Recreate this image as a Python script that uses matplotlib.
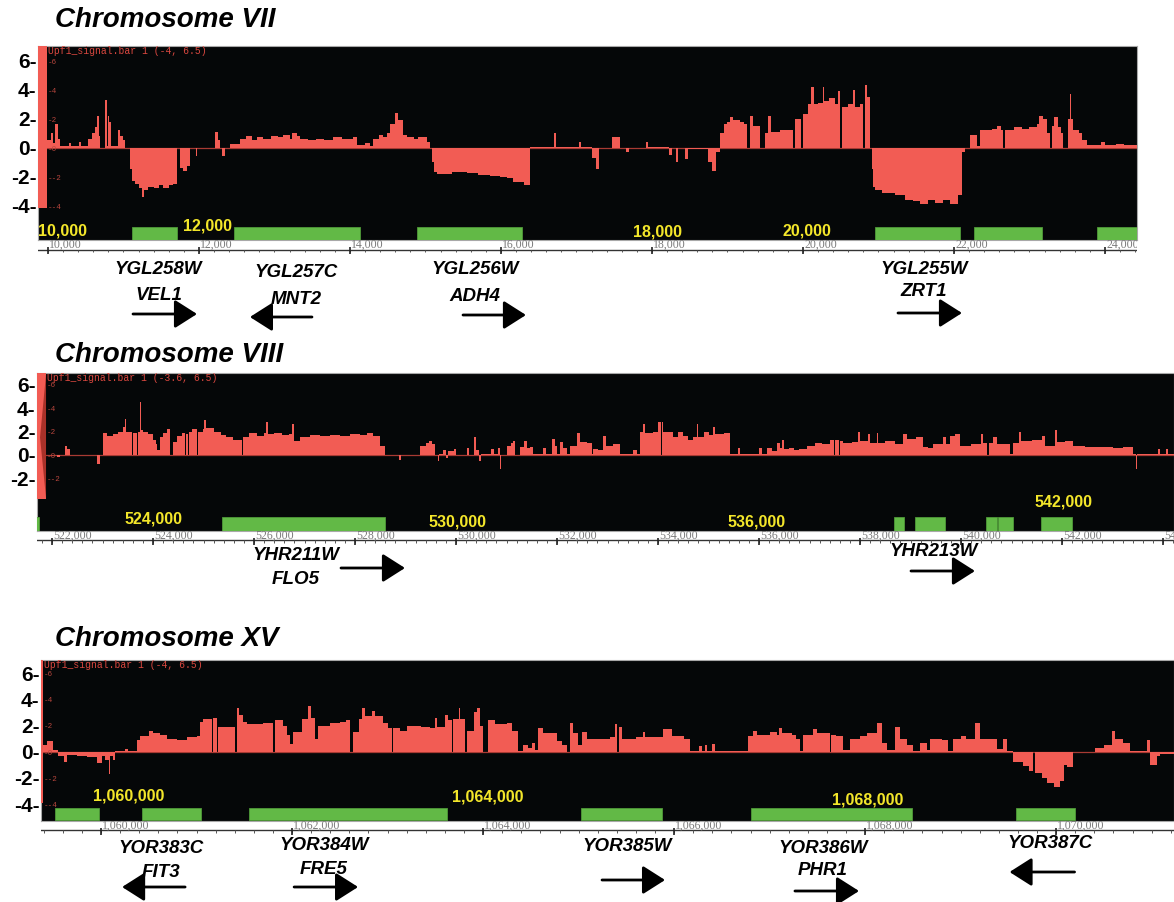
import matplotlib
matplotlib.use('Agg')
import matplotlib.pyplot as plt
import matplotlib.transforms as mtransforms
from matplotlib.patches import Rectangle, Polygon
import numpy as np

# ---------------- DATA ----------------
titles = ['Chromosome VII', 'Chromosome VIII', 'Chromosome XV']
track_labels = ['Upf1_signal.bar 1 (-4, 6.5)', 'Upf1_signal.bar 1 (-3.6, 6.5)', 'Upf1_signal.bar 1 (-4, 6.5)']

# Chromosome VII signal (segment edges in bp, values)
vii_edges = [9990, 10040, 10070, 10092, 10137, 10159, 10280, 10310, 10410, 10440, 10534, 10580, 10620, 10644, 10670,
             10689, 10760, 10780, 10795, 10815, 10835, 10930, 10960, 10990, 11020, 11086, 11110, 11150, 11200, 11250,
             11275, 11330, 11400, 11470, 11530, 11600, 11650, 11705, 11748, 11790, 11840, 11881, 11960, 11980, 12212,
             12250, 12278, 12300, 12344, 12410, 12543, 12620, 12700, 12764, 12850, 12950, 13050, 13117, 13200, 13227,
             13300, 13338, 13450, 13550, 13650, 13779, 13900, 14044, 14088, 14200, 14265, 14309, 14380, 14440, 14485,
             14530, 14600, 14640, 14700, 14750, 14850, 14900, 15015, 15060, 15081, 15110, 15148, 15236, 15350, 15545,
             15700, 15850, 15987, 16080, 16163, 16300, 16384, 16700, 16730, 17030, 17060, 17201, 17260, 17300, 17466,
             17576, 17660, 17690, 17920, 17950, 18230, 18260, 18320, 18350, 18440, 18480, 18746, 18800, 18850, 18900,
             18950, 19000, 19033, 19070, 19165, 19220, 19254, 19300, 19340, 19430, 19496, 19540, 19580, 19700, 19800,
             19870, 19895, 19980, 20000, 20060, 20110, 20140, 20200, 20260, 20280, 20350, 20420, 20470, 20495, 20512,
             20600, 20660, 20690, 20760, 20795, 20815, 20850, 20890, 20909, 20930, 20953, 21050, 21150, 21215, 21225,
             21350, 21461, 21550, 21650, 21750, 21850, 21950, 22050, 22100, 22150, 22212, 22300, 22344, 22500, 22565,
             22620, 22653, 22675, 22800, 22900, 23000, 23100, 23130, 23180, 23230, 23271, 23293, 23330, 23380, 23420,
             23448, 23514, 23530, 23550, 23580, 23650, 23700, 23757, 23950, 24000, 24150, 24250, 24424]
vii_values = [0.5, 1.0, 0.3, 1.6, 0.6, 0.1, 0.3, 0.1, 0.4, 0.1, 0.6, 1.0, 1.4, 2.2, 0.8,
              0.0, 3.3, 0.1, 2.2, 1.8, 0.1, 1.2, 0.8, 0.5, 0.0, -1.5, -2.3, -2.5, -2.8, -3.4,
              -2.9, -2.7, -2.8, -2.6, -2.8, -2.6, -2.5, 0.0, -1.4, -1.6, -1.3, 0.0, -0.6, 0.0, 1.1,
              0.5, 0.0, -0.6, 0.0, 0.25, 0.6, 0.8, 0.5, 0.7, 0.6, 0.8, 0.7, 0.9, 0.6, 1.0,
              0.8, 0.6, 0.5, 0.6, 0.5, 0.7, 0.6, 0.7, 0.2, 0.3, 0.1, 0.6, 0.9, 0.7, 1.0,
              1.6, 2.4, 1.9, 0.9, 0.75, 0.6, 0.7, 0.4, 0.0, -1.0, -1.7, -1.8, -1.8, -1.7, -1.75,
              -1.9, -1.95, -2.0, -2.1, -2.4, -2.6, 0.05, 1.0, 0.05, 0.4, 0.05, -0.7, -1.5, 0.0, 0.7,
              0.0, -0.3, 0.0, 0.4, 0.05, -0.5, 0.0, -1.0, 0.0, -0.8, -0.1, -1.0, -1.6, -0.3, 1.0,
              1.6, 1.8, 2.1, 1.9, 1.8, 1.6, 0.0, 2.2, 1.5, 0.0, 1.0, 2.2, 1.1, 1.2, 1.2,
              0.0, 2.0, 0.0, 2.3, 3.0, 4.2, 3.0, 3.1, 4.2, 3.2, 3.4, 3.0, 3.9, 0.0, 2.8,
              3.0, 4.0, 2.8, 3.0, 0.0, 4.3, 3.5, 0.0, -1.5, -2.7, -2.9, -3.1, -3.15, 0.0, -3.3,
              -3.6, -3.7, -3.9, -3.6, -3.8, -3.6, -3.9, -3.3, -0.3, 0.0, 0.9, 0.1, 1.2, 1.3, 1.5,
              1.2, 0.0, 1.2, 1.4, 1.3, 1.4, 1.6, 2.2, 2.0, 1.0, 0.0, 1.5, 2.1, 1.4, 1.0,
              0.0, 2.0, 3.7, 2.0, 1.2, 1.0, 0.5, 0.15, 0.4, 0.2, 0.25, 0.15]

vii_gene_start = [11113, 12464, 14887, 20954, 22265, 23894]
vii_gene_end = [11709, 14132, 16278, 22080, 23165, 24600]
vii_coord_labels = ['10,000', '12,000', '18,000', '20,000']
vii_coord_pos = [9868, 11784, 17748, 19735]
vii_names = ['YGL258W', 'YGL257C', 'YGL256W', 'YGL255W']
vii_alias = ['VEL1', 'MNT2', 'ADH4', 'ZRT1']
vii_strand = [1, -1, 1, 1]
vii_label_center = [11466, 13285, 15655, 21600]
vii_arrow_span = [(11126, 11974), (12675, 13497), (15497, 16331), (21258, 22106)]

# Chromosome VIII signal
viii_edges = [521882, 522100, 522150, 522257, 522300, 522356, 522900, 522960, 523016, 523082, 523200, 523300, 523412,
              523445, 523470, 523577, 523600, 523676, 523700, 523740, 523770, 523808, 523900, 524006, 524050, 524072,
              524138, 524200, 524280, 524336, 524402, 524480, 524567, 524633, 524650, 524699, 524720, 524765, 524780,
              524864, 524890, 524990, 525010, 525050, 525200, 525350, 525450, 525590, 525755, 525788, 525900, 526050,
              526200, 526240, 526280, 526400, 526550, 526700, 526760, 526800, 526910, 527100, 527300, 527500, 527700,
              527900, 528100, 528230, 528350, 528494, 528593, 528880, 528920, 529286, 529400, 529470, 529520, 529583,
              529640, 529670, 529750, 529800, 529850, 529950, 529990, 530210, 530260, 530360, 530400, 530460, 530500,
              530700, 530760, 530830, 530870, 530900, 531002, 531080, 531120, 531160, 531266, 531350, 531400, 531460,
              531530, 531728, 531780, 531893, 531950, 532000, 532058, 532120, 532200, 532256, 532400, 532450, 532600,
              532685, 532718, 532820, 532916, 532960, 533100, 533246, 533510, 533580, 533642, 533700, 533740, 533900,
              533990, 534050, 534070, 534104, 534302, 534400, 534500, 534599, 534700, 534764, 534800, 534900, 535000,
              535094, 535130, 535300, 535424, 535589, 535630, 536000, 536050, 536150, 536250, 536350, 536414, 536460,
              536500, 536600, 536700, 536800, 536942, 537100, 537250, 537404, 537480, 537500, 537580, 537600, 537668,
              537850, 537965, 537998, 538150, 538196, 538330, 538361, 538500, 538700, 538856, 538922, 539100, 539252,
              539350, 539450, 539650, 539700, 539780, 539880, 539978, 540200, 540390, 540430, 540506, 540560, 540638,
              540704, 540968, 541034, 541140, 541180, 541400, 541600, 541660, 541860, 541900, 542050, 542222, 542450,
              542651, 543000, 543200, 543410, 543460, 543490, 543900, 543930, 544060, 544100, 544216]
viii_values = [0.0, -0.2, 0.0, 0.8, 0.5, 0.0, -0.8, 0.0, 1.9, 1.6, 1.8, 2.0, 2.4,
               3.1, 2.0, 0.0, 1.9, 0.0, 2.0, 4.5, 2.1, 2.0, 1.8, 1.3, 0.9, 0.4,
               1.5, 1.9, 2.2, 0.0, 1.1, 1.6, 1.9, 0.0, 1.8, 0.0, 2.0, 0.0, 2.2,
               0.0, 2.0, 2.2, 3.0, 2.3, 2.0, 1.7, 1.5, 1.3, 0.0, 1.5, 1.9, 1.6,
               1.9, 2.8, 1.8, 1.9, 1.7, 1.8, 2.6, 1.2, 1.5, 1.7, 1.6, 1.7, 1.6,
               1.8, 1.7, 1.9, 1.6, 0.8, 0.0, -0.4, 0.0, 0.8, 1.0, 1.2, 0.9, 0.0,
               -0.5, 0.1, 0.4, -0.3, 0.3, 0.5, 0.0, 0.6, 0.0, 1.5, 0.4, -0.5, 0.1,
               0.5, 0.1, 0.6, -1.2, 0.0, 0.8, 1.0, 1.2, 0.0, 0.7, 1.2, 0.6, 0.7,
               0.1, 0.6, 0.05, 1.4, 0.8, 0.1, 1.1, 0.6, 0.1, 0.8, 1.9, 1.1, 1.0,
               0.1, 0.5, 0.4, 1.6, 0.8, 0.9, 0.1, 0.4, 0.05, 2.0, 2.6, 1.9, 2.0,
               2.8, 0.0, 2.8, 2.0, 1.5, 2.0, 1.6, 1.3, 1.5, 2.6, 1.5, 2.0, 1.7,
               2.4, 1.8, 1.9, 0.05, 0.6, 0.05, 0.6, 0.1, 0.6, 0.3, 1.0, 0.6, 1.3,
               0.5, 0.6, 0.4, 0.5, 0.8, 1.0, 0.9, 1.3, 0.0, 1.3, 0.0, 1.2, 1.0,
               1.1, 2.0, 1.2, 1.8, 1.0, 1.9, 1.0, 1.2, 0.9, 1.8, 1.4, 1.5, 0.7,
               0.6, 0.9, 1.5, 0.9, 1.6, 1.8, 0.8, 0.9, 1.8, 1.0, 0.0, 1.0, 1.5,
               0.9, 0.1, 1.0, 2.0, 1.2, 1.3, 1.6, 0.8, 2.1, 1.1, 1.2, 0.8, 0.7,
               0.65, 0.6, 0.7, 0.05, -1.2, 0.05, 0.5, 0.1, 0.5, 0.1]

viii_gene_start = [521300, 525366, 538672, 539087, 540493, 540731, 541582]
viii_gene_end = [521745, 528593, 538870, 539681, 540711, 541028, 542196]
viii_coord_labels = ['524,000', '530,000', '536,000', '542,000']
viii_coord_pos = [523426, 529445, 535385, 541463]
viii_names = ['YHR211W', 'YHR213W']
viii_alias = ['FLO5', '']
viii_strand = [1, 1]
viii_label_center = [526831, 539464]
viii_arrow_span = [(527722, 528989), (539008, 540275)]

# Chromosome XV signal
xv_edges = [1059387, 1059431, 1059500, 1059553, 1059610, 1059640, 1059750, 1059850, 1059954, 1060006, 1060041,
            1060080, 1060094, 1060120, 1060146, 1060250, 1060280, 1060373, 1060408, 1060500, 1060540, 1060620,
            1060687, 1060800, 1060896, 1061000, 1061036, 1061071, 1061158, 1061176, 1061211, 1061228, 1061403,
            1061420, 1061440, 1061490, 1061525, 1061700, 1061804, 1061821, 1061900, 1061943, 1061980, 1062013,
            1062100, 1062170, 1062200, 1062240, 1062275, 1062400, 1062500, 1062560, 1062607, 1062641, 1062700,
            1062729, 1062760, 1062833, 1062870, 1062950, 1063000, 1063043, 1063061, 1063130, 1063200, 1063350,
            1063445, 1063497, 1063514, 1063600, 1063636, 1063671, 1063689, 1063745, 1063759, 1063811, 1063828,
            1063900, 1063940, 1063968, 1064003, 1064055, 1064125, 1064247, 1064300, 1064369, 1064422, 1064474,
            1064509, 1064544, 1064580, 1064631, 1064771, 1064830, 1064875, 1064910, 1064945, 1064998, 1065032,
            1065085, 1065200, 1065329, 1065385, 1065406, 1065420, 1065451, 1065600, 1065670, 1065700, 1065888,
            1065975, 1066100, 1066167, 1066265, 1066290, 1066320, 1066340, 1066400, 1066428, 1066777, 1066830,
            1066870, 1067000, 1067074, 1067100, 1067130, 1067230, 1067280, 1067318, 1067353, 1067450, 1067500,
            1067633, 1067645, 1067700, 1067772, 1067842, 1067950, 1068016, 1068121, 1068173, 1068226, 1068313,
            1068365, 1068435, 1068505, 1068575, 1068645, 1068680, 1068800, 1068871, 1068924, 1069000, 1069060,
            1069151, 1069203, 1069378, 1069447, 1069482, 1069552, 1069650, 1069720, 1069761, 1069779, 1069850,
            1069901, 1069980, 1070041, 1070080, 1070110, 1070180, 1070407, 1070500, 1070590, 1070620, 1070700,
            1070773, 1070948, 1070983, 1071060, 1071088, 1071234]
xv_values = [0.5, 0.8, 0.1, -0.3, -0.8, -0.25, -0.3, -0.4, -0.9, -0.3,
             -0.6, -1.7, -0.3, -0.6, 0.05, 0.2, 0.05, 0.9, 1.2, 1.6, 1.4,
             1.3, 1.0, 0.9, 1.1, 1.2, 2.3, 2.5, 0.0, 2.6, 0.0, 1.9,
             0.0, 3.3, 2.8, 2.3, 2.1, 2.2, 0.0, 2.4, 2.0, 1.3, 0.6,
             1.5, 2.5, 3.5, 2.6, 1.0, 2.0, 2.2, 2.3, 2.4, 0.0, 1.5,
             2.5, 3.3, 2.7, 3.1, 2.7, 2.2, 1.8, 0.0, 1.8, 1.6, 2.0,
             1.9, 1.8, 2.6, 1.9, 2.8, 2.4, 0.0, 2.5, 3.3, 2.5, 0.0,
             1.6, 3.0, 3.3, 2.0, 0.0, 2.4, 2.1, 2.2, 1.6, 0.05, 0.5,
             0.3, 0.7, 0.1, 1.8, 1.4, 0.8, 0.5, 0.0, 2.2, 1.4, 0.5,
             1.5, 1.0, 0.95, 1.1, 2.1, 0.0, 1.9, 1.0, 1.1, 1.5, 1.1,
             1.7, 1.2, 1.0, 0.05, 0.4, 0.05, 0.5, 0.05, 0.6, 0.05, 1.2,
             1.6, 1.3, 1.5, 1.3, 1.8, 1.4, 1.3, 1.0, 0.05, 1.3, 1.7,
             1.4, 0.0, 1.3, 1.2, 0.1, 1.0, 1.2, 1.4, 2.2, 0.7, 0.1,
             1.9, 1.0, 0.5, 0.05, 0.7, 0.1, 1.0, 0.9, 0.05, 1.0, 1.2,
             1.0, 2.2, 1.0, 0.2, 1.0, 0.05, -0.8, -1.1, -1.5, 0.0, -1.6,
             -2.0, -2.4, -2.7, -2.2, -1.0, -1.2, -0.05, 0.3, 0.5, 1.6, 1.0,
             0.7, 0.05, 0.9, -1.0, -0.3, -0.2]

xv_gene_start = [1059518, 1060429, 1061550, 1065026, 1066806, 1069580]
xv_gene_end = [1059979, 1061047, 1063623, 1065874, 1068491, 1070198]
xv_coord_labels = ['1,060,000', '1,064,000', '1,068,000']
xv_coord_pos = [1059913, 1063675, 1067650]
xv_names = ['YOR383C', 'YOR384W', 'YOR385W', 'YOR386W', 'YOR387C']
xv_alias = ['FIT3', 'FRE5', '', 'PHR1', '']
xv_strand = [-1, 1, 1, 1, -1]
xv_label_center = [1060628, 1062335, 1065512, 1067559, 1069936]
xv_arrow_span = [(1060220, 1060880), (1062021, 1062691), (1065245, 1065905), (1067265, 1067936), (1069512, 1070193)]

vii_yticks = [6, 4, 2, 0, -2, -4]
viii_yticks = [6, 4, 2, 0, -2]
xv_yticks = [6, 4, 2, 0, -2, -4]

# ---------------- STYLE / LAYOUT ----------------
W, H = 1174, 902
fig = plt.figure(figsize=(W / 100, H / 100), dpi=100)
fig.patch.set_facecolor('white')

SANS = ['Liberation Sans', 'DejaVu Sans']
MONO = ['Liberation Mono', 'DejaVu Sans Mono']
SERIF = ['Liberation Serif', 'DejaVu Serif']
BLACK_BG = '#050708'
SIG = '#f25c54'
GREEN = '#62b946'
YELLOW = '#f3e62a'


def frac(x1, y1, x2, y2):
    return [x1 / W, 1 - y2 / H, (x2 - x1) / W, (y2 - y1) / H]


panels = [
    dict(title=titles[0], title_y=20, track=track_labels[0], edges=vii_edges, values=vii_values,
         box=(38, 46, 1137, 240), xlim=(9868, 24424), ylim=(-6.37, 7.01), bar_end=9987, bar_bottom=-4.16,
         genes=(vii_gene_start, vii_gene_end), gene_y=(-6.37, -5.45),
         coords=(vii_coord_labels, vii_coord_pos), coord_y=[-5.72, -5.4, -5.81, -5.78],
         yticks=vii_yticks, ruler=(240, 256), names=vii_names, alias=vii_alias, strand=vii_strand,
         centers=vii_label_center, spans=vii_arrow_span,
         name_y=[269, 272.5, 269, 270], alias_y=[296, 299.5, 296.5, 292], arrow_y=[314, 317, 315, 313]),
    dict(title=titles[1], title_y=355, track=track_labels[1], edges=viii_edges, values=viii_values,
         box=(37, 373, 1174, 531), xlim=(521703, 544216), ylim=(-6.5, 7.0), bar_end=521882, bar_bottom=-3.76,
         genes=(viii_gene_start, viii_gene_end), gene_y=(-6.5, -5.3),
         coords=(viii_coord_labels, viii_coord_pos), coord_y=[-5.51, -5.73, -5.73, -4.0],
         yticks=viii_yticks, ruler=(531, 546), names=viii_names, alias=viii_alias, strand=viii_strand,
         centers=viii_label_center, spans=viii_arrow_span,
         name_y=[555, 551], alias_y=[579, None], arrow_y=[568, 571]),
    dict(title=titles[2], title_y=639, track=track_labels[2], edges=xv_edges, values=xv_values,
         box=(41, 660, 1174, 821), xlim=(1059371, 1071234), ylim=(-5.29, 7.0), bar_end=1059387, bar_bottom=-3.9,
         genes=(xv_gene_start, xv_gene_end), gene_y=(-5.2, -4.27),
         coords=(xv_coord_labels, xv_coord_pos), coord_y=[-3.38, -3.46, -3.69],
         yticks=xv_yticks, ruler=(821, 836), names=xv_names, alias=xv_alias, strand=xv_strand,
         centers=xv_label_center, spans=xv_arrow_span,
         name_y=[848.5, 845, 846.5, 848.5, 843.5], alias_y=[872.5, 869, None, 870.5, None],
         arrow_y=[887, 887, 880, 891, 872]),
]

for i, p in enumerate(panels):
    x1, y1, x2, y2 = p['box']
    ax = fig.add_axes(frac(x1, y1, x2, y2))
    ax.set_facecolor(BLACK_BG)
    ax.set_xlim(*p['xlim'])
    ax.set_ylim(*p['ylim'])
    for s in ax.spines.values():
        s.set_edgecolor('#a8a8a8')
        s.set_linewidth(0.8)
    ax.set_xticks([])
    ax.set_yticks(p['yticks'])
    ax.set_yticklabels([f'{v}-' for v in p['yticks']], fontsize=15, fontweight='bold', family=SANS)
    ax.tick_params(axis='y', length=0, pad=1)

    # zero line and signal
    ax.axhline(0, color='#a83a33', lw=0.9, zorder=2)
    ax.stairs(p['values'], p['edges'], baseline=0, fill=True, color=SIG, zorder=3)

    # scale bar at left
    ax.add_patch(Rectangle((p['xlim'][0], p['bar_bottom']), p['bar_end'] - p['xlim'][0],
                           p['ylim'][1] - p['bar_bottom'], facecolor=SIG, edgecolor='none', zorder=4))
    if i == 1:
        ax.add_patch(Polygon([(p['bar_end'], 6.9), (p['xlim'][0] + 60, 1.5), (p['bar_end'], -3.7)],
                             closed=True, facecolor='#9c2a22', edgecolor='none', alpha=0.85, zorder=5))

    # inner small axis labels
    xin = (p['bar_end'] - p['xlim'][0]) / (p['xlim'][1] - p['xlim'][0])
    trans_in = mtransforms.blended_transform_factory(ax.transAxes, ax.transData)
    for v in p['yticks']:
        ax.text(xin + 0.001, v - 0.1, f'-{v}', transform=trans_in, fontsize=5.5, color='#b8463d',
                family=MONO, va='center', ha='left', zorder=6)
    ax.text(xin + 0.001, 0.998, p['track'], transform=ax.transAxes, fontsize=7.0, color='#d9473f',
            family=MONO, va='top', ha='left', zorder=6)

    # gene boxes
    gs, ge = p['genes']
    g0, g1 = p['gene_y']
    for s, e in zip(gs, ge):
        ax.add_patch(Rectangle((s, g0), e - s, g1 - g0, facecolor=GREEN, edgecolor='#4f9a38',
                               lw=0.6, zorder=4, clip_on=True))
    labs, poss = p['coords']
    for lab, pos, yy in zip(labs, poss, p['coord_y']):
        ax.text(pos, yy, lab, color=YELLOW, fontsize=11.5, fontweight='bold', family=SANS,
                va='center', ha='left', zorder=7)

    # ruler
    r1, r2 = p['ruler']
    rax = fig.add_axes(frac(x1, r1, x2, r2))
    rax.set_xlim(*p['xlim'])
    rax.set_ylim(r2, r1)  # pixel-like coordinates inside ruler
    rax.axis('off')
    line_y = r1 + (r2 - r1) * 0.62
    rax.axhline(line_y, color='#333333', lw=1.0)
    major = np.arange(np.ceil(p['xlim'][0] / 2000) * 2000, p['xlim'][1] + 1, 2000)
    minor = np.arange(np.ceil(p['xlim'][0] / 200) * 200, p['xlim'][1] + 1, 200)
    rax.vlines(minor, line_y, line_y + 2.5, color='#555555', lw=0.7)
    rax.vlines(major, line_y - 2.5, line_y + 4.5, color='#222222', lw=1.2)
    for m in major:
        rax.text(m + (p['xlim'][1] - p['xlim'][0]) * 0.001, r1 + (r2 - r1) * 0.3, f'{int(m):,}',
                 fontsize=8.5, color='#7a7a7a', family=SERIF, va='center', ha='left', clip_on=True)

    # title
    fig.text(55 / W, 1 - p['title_y'] / H, p['title'], fontsize=20, fontweight='bold', style='italic',
             family=SANS, va='center', ha='left')

    # gene names and arrows
    tr = mtransforms.blended_transform_factory(ax.transData, fig.transFigure)
    for k, name in enumerate(p['names']):
        c = p['centers'][k]
        ax.text(c, 1 - p['name_y'][k] / H, name, transform=tr, fontsize=13.5, fontweight='bold',
                style='italic', family=SANS, ha='center', va='center', clip_on=False)
        if p['alias'][k]:
            ax.text(c, 1 - p['alias_y'][k] / H, p['alias'][k], transform=tr, fontsize=13.5,
                    fontweight='bold', style='italic', family=SANS, ha='center', va='center', clip_on=False)
        a, b = p['spans'][k]
        tail, tip = (a, b) if p['strand'][k] > 0 else (b, a)
        yy = 1 - p['arrow_y'][k] / H
        ax.annotate('', xy=(tip, yy), xytext=(tail, yy), xycoords=tr, textcoords=tr,
                    annotation_clip=False,
                    arrowprops=dict(arrowstyle='-|>,head_length=0.55,head_width=0.35', mutation_scale=25,
                                    lw=2.0, color='black', shrinkA=0, shrinkB=0))

fig.savefig('out.png', dpi=100, facecolor='white')
